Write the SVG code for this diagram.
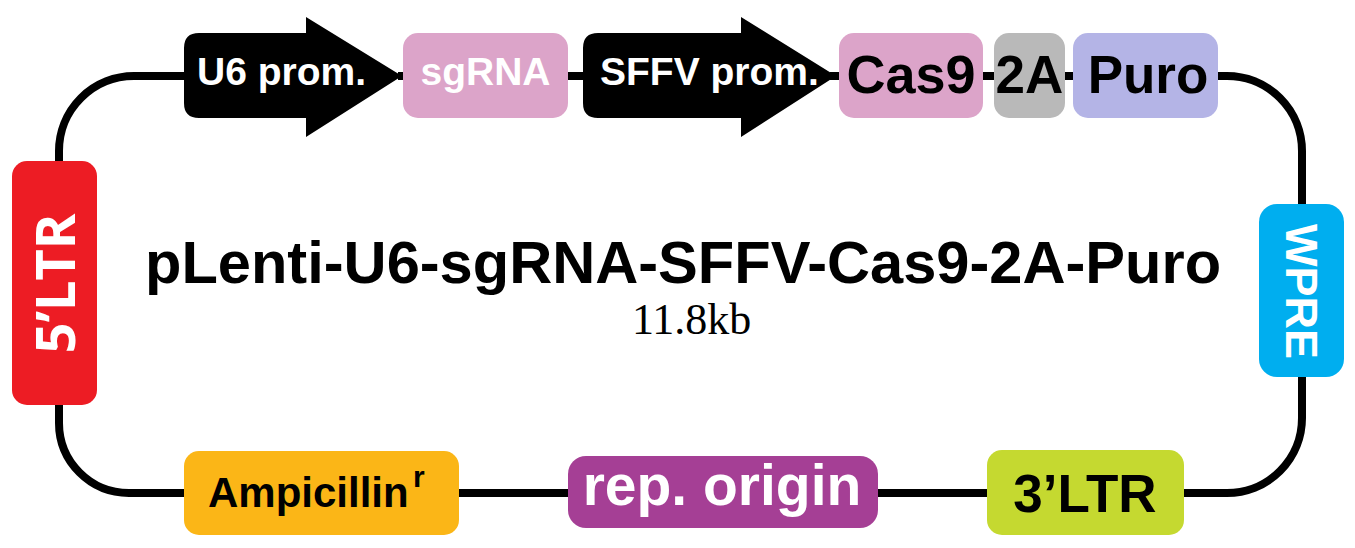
<svg xmlns="http://www.w3.org/2000/svg" width="1355" height="548" viewBox="0 0 1355 548">
<style>
.bx{font-family:"Liberation Sans",Arial,sans-serif;font-weight:bold}
.w{fill:#ffffff}
.k{fill:#000000}
.ln{fill:none;stroke:#000;stroke-width:8}
</style>
<rect width="1355" height="548" fill="#ffffff"/>
<g id="connectors">
<path class="ln" d="M59,161 V151 A75,75 0 0 1 134,76 H186"/>
<path class="ln" d="M398,76 H405"/>
<path class="ln" d="M566,76 H585"/>
<path class="ln" d="M830,76 H841"/>
<path class="ln" d="M981,76 H996"/>
<path class="ln" d="M1063,76 H1075"/>
<path class="ln" d="M1216,76 H1227 A75,75 0 0 1 1302,151 V206"/>
<path class="ln" d="M1302,375 V418 A75,75 0 0 1 1227,493 H1182"/>
<path class="ln" d="M989,493 H876"/>
<path class="ln" d="M570,493 H457"/>
<path class="ln" d="M186,493 H129 A70,70 0 0 1 59,423 V403"/>
</g>
<g id="u6">
<path d="M184,48 Q184,33 199,33 H306 V17 L402,76 L306,137 V118 H199 Q184,118 184,103 Z" fill="#000"/>
<text class="bx w" x="197" y="85" font-size="39">U6 prom.</text>
</g>
<g id="sgrna">
<rect x="403" y="33" width="165" height="85" rx="15" fill="#dca4c9"/>
<text class="bx w" x="485.5" y="85" font-size="39" text-anchor="middle">sgRNA</text>
</g>
<g id="sffv">
<path d="M583,48 Q583,33 598,33 H741 V17 L836,76 L741,137 V118 H598 Q583,118 583,103 Z" fill="#000"/>
<text class="bx w" x="600" y="85" font-size="39">SFFV prom.</text>
</g>
<g id="cas9">
<rect x="839" y="33" width="144" height="85" rx="15" fill="#dca4c9"/>
<text class="bx k" x="911" y="93" font-size="54" text-anchor="middle">Cas9</text>
</g>
<g id="p2a">
<rect x="994" y="33" width="71" height="85" rx="15" fill="#b9b9b9"/>
<text class="bx k" x="1029.5" y="93" font-size="53" text-anchor="middle">2A</text>
</g>
<g id="puro">
<rect x="1073" y="33" width="145" height="85" rx="15" fill="#b4b4e6"/>
<text class="bx k" x="1148" y="93" font-size="53" text-anchor="middle">Puro</text>
</g>
<g id="wpre">
<rect x="1259" y="204" width="85" height="173" rx="18" fill="#00aeef"/>
<text class="bx w" transform="translate(1286,291.5) rotate(90)" x="0" y="0" font-size="45" text-anchor="middle">WPRE</text>
</g>
<g id="ltr3">
<rect x="987" y="450" width="197" height="85" rx="15" fill="#c5d930"/>
<text class="bx k" x="1085" y="512" font-size="53" text-anchor="middle">3’LTR</text>
</g>
<g id="ori">
<rect x="568" y="456" width="310" height="72" rx="18" fill="#a53f95"/>
<text class="bx w" x="722" y="505" font-size="57" text-anchor="middle">rep. origin</text>
</g>
<g id="amp">
<rect x="184" y="451" width="275" height="84" rx="15" fill="#fbb617"/>
<text class="bx k" x="208" y="507" font-size="42">Ampicillin</text>
<text class="bx k" x="413" y="487" font-size="30">r</text>
</g>
<g id="ltr5">
<rect x="12" y="161" width="85" height="244" rx="15" fill="#ed1c24"/>
<text transform="translate(75,283.5) rotate(-90)" x="0" y="0" font-family="'Open Sans',sans-serif" font-weight="bold" font-size="54" fill="#ffffff" text-anchor="middle">5’LTR</text>
</g>
<g id="title">
<text class="bx k" x="145" y="283" font-size="59.6">pLenti-U6-sgRNA-SFFV-Cas9-2A-Puro</text>
<text x="632" y="334" font-family="'Liberation Serif','Times New Roman',serif" font-size="44" fill="#000">11.8kb</text>
</g>
</svg>
